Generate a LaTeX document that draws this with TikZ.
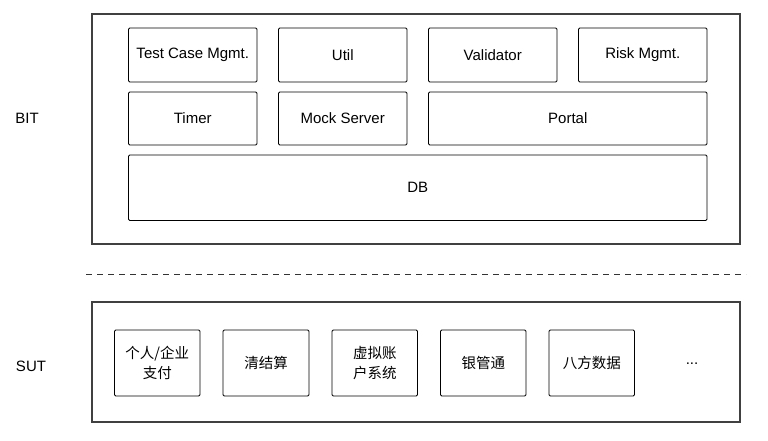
\documentclass[tikz,border=0pt]{standalone}
\usepackage{fontspec}
\setmainfont{Liberation Sans}
\newfontfamily\cjk{Noto Sans CJK SC}
\begin{document}
\begin{tikzpicture}[x=1pt,y=-1pt,
  outerbox/.style={draw=black!75,line width=1.4pt},
  innerbox/.style={draw=black,line width=0.9pt,rounded corners=1.2pt},
  lbl/.style={font=\fontsize{15}{17}\selectfont},
  clbl/.style={font=\fontsize{14.5}{20}\selectfont\cjk,align=center}]
\useasboundingbox (0,0) rectangle (768,441);
% BIT
\draw[outerbox] (92,14) rectangle (740,244);
\node[lbl] (bit) at (27,118) {BIT};
\draw[innerbox] (128.5,28) rectangle (257,82) node[midway,lbl] (tcm) {Test Case Mgmt.};
\draw[innerbox] (278.5,28) rectangle (407,82) node[midway,lbl] (util) {Util};
\draw[innerbox] (428.5,28) rectangle (557,82) node[midway,lbl] (val) {Validator};
\draw[innerbox] (578.5,28) rectangle (707,82) node[midway,lbl] (risk) {Risk Mgmt.};
\draw[innerbox] (128.5,92) rectangle (257,145) node[midway,lbl] (timer) {Timer};
\draw[innerbox] (278.5,92) rectangle (407,145) node[midway,lbl] (mock) {Mock Server};
\draw[innerbox] (428.5,92) rectangle (707,145) node[midway,lbl] (portal) {Portal};
\draw[innerbox] (128.5,155) rectangle (707,220.5) node[midway,lbl] (db) {DB};
% separator
\coordinate (sepl) at (86,274);
\coordinate (sepr) at (746,274);
\draw[black!80,line width=0.9pt,dash pattern=on 6pt off 5pt] (sepl) -- (sepr);
% SUT
\draw[outerbox] (92,302) rectangle (740,422);
\node[lbl] (sut) at (31,366) {SUT};
\draw[innerbox] (114.5,330) rectangle (200,396) node[midway,clbl] (p1) {个人/企业\\支付};
\draw[innerbox] (223,330) rectangle (309,396) node[midway,clbl] (p2) {清结算};
\draw[innerbox] (332,330) rectangle (417.5,396) node[midway,clbl] (p3) {虚拟账\\户系统};
\draw[innerbox] (440.5,330) rectangle (526,396) node[midway,clbl] (p4) {银管通};
\draw[innerbox] (549,330) rectangle (634.5,396) node[midway,clbl] (p5) {八方数据};
\node[lbl] (dots) at (692,364) {...};
\end{tikzpicture}
\end{document}
